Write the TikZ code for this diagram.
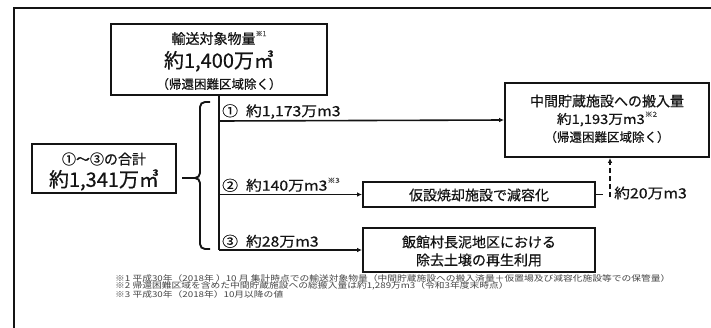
\documentclass[tikz,border=0pt]{standalone}
\usepackage{fontspec}
\setmainfont{Noto Sans CJK JP}[FakeBold=0.5]
\newfontfamily\cjkwide{Noto Sans CJK JP}[FakeStretch=1.22]
\newfontfamily\lblfont{Noto Sans CJK JP}[FakeStretch=1.13, FakeBold=0.5]
\usetikzlibrary{arrows.meta}
\definecolor{ink}{HTML}{141414}
\definecolor{note}{HTML}{444444}
\newcommand{\fs}[1]{\fontsize{#1}{#1}\selectfont}
\newcommand{\sref}[1]{\raisebox{0.55em}{\fs{7}\color{note}#1}}
\tikzset{
  box/.style={draw=ink, line width=1.8pt, minimum width=#1, inner sep=0pt},
  txt/.style={text=ink, inner sep=0pt},
  lbl/.style={text=ink, inner sep=0pt, font=\lblfont\fs{14}},
  conn/.style={draw=ink, line width=1.6pt},
  arr/.style={conn, -{Latex[length=5pt,width=4.5pt]}},
  fn/.style={text=note, inner sep=0pt, anchor=west, font=\cjkwide\fs{8}},
}
\begin{document}
\begin{tikzpicture}[x=1pt,y=-1pt]
\useasboundingbox (0,0) rectangle (711,327);
\clip (0,0) rectangle (711,327);
\fill[white] (0,0) rectangle (711,327);
% outer frame
\draw[ink, line width=2.2pt] (14,340) -- (14,8) -- (730,8);
% top box
\node[box=216pt, minimum height=71pt] (top) at (219,59.5) {};
\node[txt, font=\fs{14}] (t1) at (219,38) {輸送対象物量\sref{※1}};
\node[txt, font=\fs{20}] (t2) at (219,61) {約1,400万㎥};
\node[txt, font=\fs{12.5}] (t3) at (219,84) {（帰還困難区域除く）};
% left box
\node[box=144pt, minimum height=49pt, line width=2.8pt] (sum) at (104,168.5) {};
\node[txt, font=\fs{14}] (s1) at (104,159) {①～③の合計};
\node[txt, font=\fs{20}] (s2) at (104,180) {約1,341万㎥};
% brace
\draw[ink, line width=1.9pt, rounded corners=5pt] (210,102) -- (200,102) -- (200,178) -- (182,178);
\draw[ink, line width=1.9pt, rounded corners=5pt] (182,178) -- (200,178) -- (200,249) -- (210,249);
% right box
\node[box=204pt, minimum height=74pt] (dest) at (607,120) {};
\node[txt, font=\fs{14}] (r1) at (607,101) {中間貯蔵施設への搬入量};
\node[txt, font=\lblfont\fs{13}] (r2) at (607,119) {約1,193万m3\sref{※2}};
\node[txt, font=\fs{12.5}] (r3) at (607,137) {（帰還困難区域除く）};
% middle box
\node[box=232pt, minimum height=25pt] (mid) at (479,194.5) {};
\node[txt, font=\fs{14}] (m1) at (479,195) {仮設焼却施設で減容化};
% bottom box
\node[box=232pt, minimum height=44pt] (bot) at (479,250) {};
\node[txt, font=\fs{14}] (b1) at (479,242) {飯館村長泥地区における};
\node[txt, font=\fs{14}] (b2) at (479,260) {除去土壌の再生利用};
% connectors
\coordinate (j1) at (219,121);
\coordinate (j2) at (219,194.5);
\coordinate (j3) at (219,250);
\draw[conn] (top.south) -- (j3);
\draw[arr] (j1) -- (dest.west);
\draw[arr] (j2) -- (mid.west);
\draw[arr] (j3) -- (bot.west);
\coordinate (d) at (603,194.5);
\coordinate (dv) at (610,197);
\draw[conn] (mid.east) -- (d);
\draw[arr, dashed, dash pattern=on 5pt off 3pt] (dv) -- (dv |- dest.south);
% labels
\node[lbl, anchor=south west] (l1) at (222,119) {①\hspace{8pt}約1,173万m3};
\node[lbl, anchor=south west] (l2) at (222,192) {②\hspace{8pt}約140万m3\sref{※3}};
\node[lbl, anchor=south west] (l3) at (222,248) {③\hspace{8pt}約28万m3};
\node[lbl, anchor=west] (l4) at (614,193) {約20万m3};
% footnotes
\node[fn] (f1) at (115,278) {※1 平成30年（2018年 ）10 月 集計時点での輸送対象物量（中間貯蔵施設への搬入済量＋仮置場及び減容化施設等での保管量）};
\node[fn] (f2) at (115,286) {※2 帰還困難区域を含めた中間貯蔵施設への総搬入量は約1,289万m3（令和3年度末時点）};
\node[fn] (f3) at (115,294) {※3 平成30年（2018年）10月以降の値};
\end{tikzpicture}
\end{document}
